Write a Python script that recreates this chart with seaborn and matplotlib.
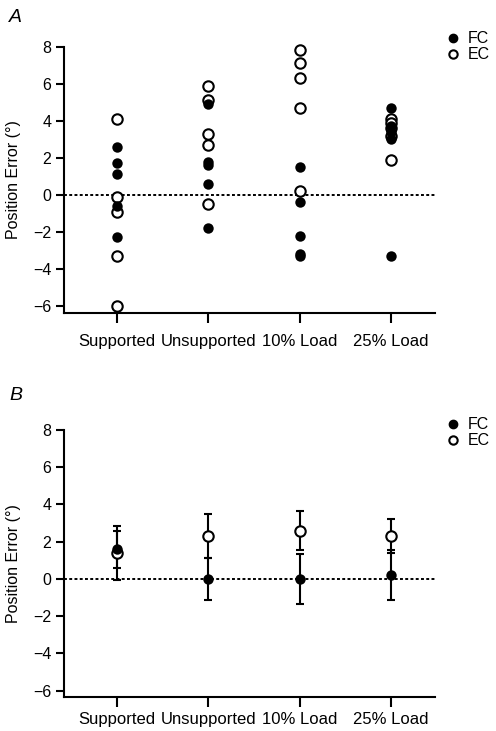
import matplotlib
matplotlib.use("Agg")
import matplotlib.pyplot as plt
from matplotlib.lines import Line2D
import seaborn as sns
import pandas as pd
import numpy as np

# style: plain ticks, Arial-like font, pure black
sns.set_style("ticks")
plt.rcParams['font.family'] = ['Liberation Sans', 'DejaVu Sans']
plt.rcParams['axes.linewidth'] = 1.5
for key in ['text.color', 'axes.labelcolor', 'xtick.color', 'ytick.color', 'axes.edgecolor']:
    plt.rcParams[key] = 'black'

# ---- data ----
categories = ["Supported", "Unsupported", "10% Load", "25% Load"]

# panel A: individual subjects
fc_supported = [2.6, 1.7, 1.1, -0.6, -2.3]
ec_supported = [4.1, -0.1, -0.9, -3.3, -6.0]
fc_unsupported = [4.9, 1.8, 1.6, 0.6, -1.8]
ec_unsupported = [5.9, 5.1, 3.3, 2.7, -0.5]
fc_load10 = [1.5, -0.4, -2.2, -3.2, -3.3]
ec_load10 = [7.8, 7.1, 6.3, 4.7, 0.2]
fc_load25 = [4.7, 3.7, 3.4, 3.0, -3.3]
ec_load25 = [4.1, 3.9, 3.6, 3.2, 1.9]

# panel B: group means and error bars
fc_mean = [1.6, 0.0, -0.02, 0.2]
fc_err = [1.0, 1.15, 1.35, 1.33]
ec_mean = [1.4, 2.3, 2.6, 2.3]
ec_err = [1.45, 1.17, 1.06, 0.9]

fc_all = [fc_supported, fc_unsupported, fc_load10, fc_load25]
ec_all = [ec_supported, ec_unsupported, ec_load10, ec_load25]
rows = []
for cat, fc, ec in zip(categories, fc_all, ec_all):
    rows += [(cat, v, "FC") for v in fc]
    rows += [(cat, v, "EC") for v in ec]
df = pd.DataFrame(rows, columns=["condition", "error", "group"])

fig = plt.figure(figsize=(4.96, 7.31), dpi=100)
ax_a = fig.add_axes([0.129, 0.5718, 0.748, 0.3643])
ax_b = fig.add_axes([0.129, 0.0465, 0.748, 0.3653])


def style_axes(ax, ylo, xpad):
    ax.axhline(0, color="black", lw=1.4, ls=(0, (1.5, 1.2)), zorder=1)
    ax.set_xlim(-0.58, 3.48)
    ax.set_ylim(ylo, 8)
    ax.set_yticks(range(-6, 9, 2))
    ax.set_xlabel("")
    ax.set_ylabel("Position Error (°)", fontsize=11.5, labelpad=9)
    ax.tick_params(axis="y", labelsize=11.5, width=1.5, length=6, pad=3)
    ax.tick_params(axis="x", labelsize=12, width=1.5, length=7, pad=xpad)
    sns.despine(ax=ax)


# --- panel A: individual points ---
sns.stripplot(data=df[df.group == "EC"], x="condition", y="error", order=categories,
              jitter=False, color="white", edgecolor="black", linewidth=1.5,
              size=7.5, ax=ax_a, zorder=3, clip_on=False)
sns.stripplot(data=df[df.group == "FC"], x="condition", y="error", order=categories,
              jitter=False, color="black", size=7.5, ax=ax_a, zorder=4, clip_on=False)
style_axes(ax_a, -6.38, 8)

# --- panel B: means +- error ---
pos = np.arange(len(categories))
ax_b.errorbar(pos, fc_mean, yerr=fc_err, fmt="none", ecolor="black",
              elinewidth=1.5, capsize=3, capthick=1.5, zorder=2)
ax_b.errorbar(pos, ec_mean, yerr=ec_err, fmt="none", ecolor="black",
              elinewidth=1.5, capsize=3, capthick=1.5, zorder=2)
sns.stripplot(x=categories, y=ec_mean, order=categories, jitter=False,
              color="white", edgecolor="black", linewidth=1.5, size=7.5,
              ax=ax_b, zorder=3)
sns.stripplot(x=categories, y=fc_mean, order=categories, jitter=False,
              color="black", size=7.5, ax=ax_b, zorder=4)
style_axes(ax_b, -6.34, 4)

# legends
handles = [Line2D([], [], ls="none", marker="o", color="black", markersize=6),
           Line2D([], [], ls="none", marker="o", markerfacecolor="white",
                  markeredgecolor="black", markeredgewidth=1.5, markersize=6)]
for ytop in (0.957, 0.429):
    fig.legend(handles, ["FC", "EC"], loc="upper left", bbox_to_anchor=(0.901, ytop),
               frameon=False, fontsize=11.5, handlelength=0.8, handletextpad=0.5,
               labelspacing=0.05, borderpad=0, borderaxespad=0)

fig.text(0.018, 0.988, "A", fontsize=14, style="italic", va="top")
fig.text(0.018, 0.470, "B", fontsize=14, style="italic", va="top")

fig.savefig("out.png", dpi=100)
